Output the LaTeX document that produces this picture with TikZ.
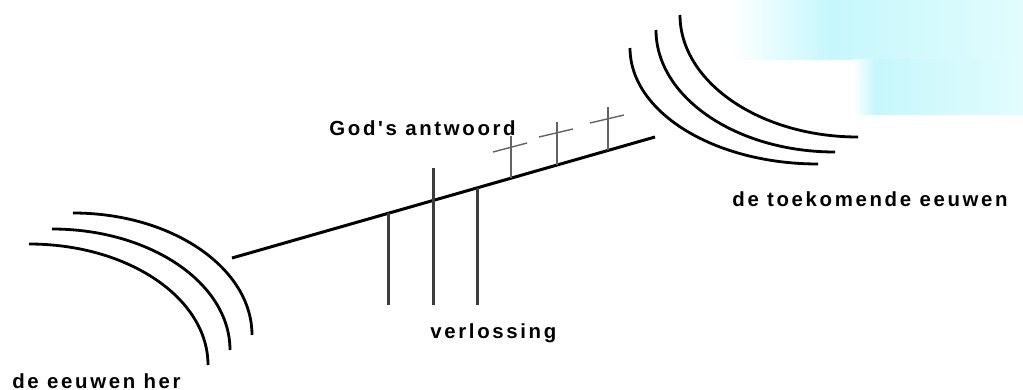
\documentclass[tikz,border=0pt]{standalone}
\usepackage{fontspec}
\usepackage{tikz}
\usepackage{xcolor}
\usetikzlibrary{positioning, calc}
\newfontfamily\labelfont[LetterSpace=13]{Liberation Sans}
\definecolor{SkyLight}{RGB}{198,247,252}
\definecolor{SkyPale}{RGB}{226,252,253}
\definecolor{InkGray}{RGB}{60,60,60}

\begin{document}
\begin{tikzpicture}[x=0.5pt,y=-0.5pt,
    era/.style={line width=1.4pt,black},
    beam/.style={line width=1.5pt,black},
    pole/.style={line width=1.5pt,InkGray},
    crossbar/.style={line width=0.7pt,InkGray!80},
    lbl/.style={font=\labelfont\bfseries\fontsize{10.2}{11}\selectfont,inner sep=0pt,anchor=base west}
  ]
    \useasboundingbox (0,0) rectangle (1023,390);
    % soft sky patch, top right
    \shade[left color=white,right color=SkyLight] (730,0) rectangle (830,60);
    \shade[left color=SkyLight,right color=SkyPale] (829,0) rectangle (1023,60);
    \shade[left color=white,right color=SkyLight] (853,60) rectangle (875,115);
    \shade[left color=SkyLight,right color=SkyPale] (874,60) rectangle (1023,115);

    % the ages behind
    \draw[era] (29,244) .. controls (128,244) and (208,298) .. (208,365);
    \draw[era] (52,229) .. controls (150,229) and (230,283) .. (230,350);
    \draw[era] (73,213) .. controls (172,213) and (252,268) .. (252,335);
    % the ages to come
    \draw[era] (630,48) .. controls (630,112) and (714,164) .. (818,164);
    \draw[era] (656,30) .. controls (656,97) and (736,152) .. (835,152);
    \draw[era] (680,15) .. controls (680,82) and (760,137) .. (858,137);

    % time line
    \coordinate (start) at (232,258);
    \coordinate (end) at (655,137);
    \draw[beam] (start) -- (end);

    % three posts
    \coordinate (p1) at ($(start)!0.3688!(end)$);
    \coordinate (p2) at ($(start)!0.4752!(end)$);
    \coordinate (p3) at ($(start)!0.5792!(end)$);
    \draw[pole] (p1) -- (p1 |- 0,305);
    \draw[pole] (p2 |- 0,168) -- (p2 |- 0,305);
    \draw[pole] (p3) -- (p3 |- 0,305);

    % small crosses
    \foreach \t/\top/\ya/\yb in {0.6596/136/152/143, 0.7683/122/137/129, 0.8889/107/123/115}{
      \coordinate (c) at ($(start)!\t!(end)$);
      \draw[crossbar] (c) -- (c |- 0,\top);
      \draw[crossbar] ($(c |- 0,\ya)+(-18,0)$) -- ($(c |- 0,\yb)+(16,-0)$);
    }

    \node[lbl] (past) at (12,388) {de eeuwen her};
    \node[lbl] (answer) at (329,135) {God's antwoord};
    \node[lbl] (redeem) at (430,338) {verlossing};
    \node[lbl] (future) at (732,206) {de toekomende eeuwen};
  \end{tikzpicture}
\end{document}
